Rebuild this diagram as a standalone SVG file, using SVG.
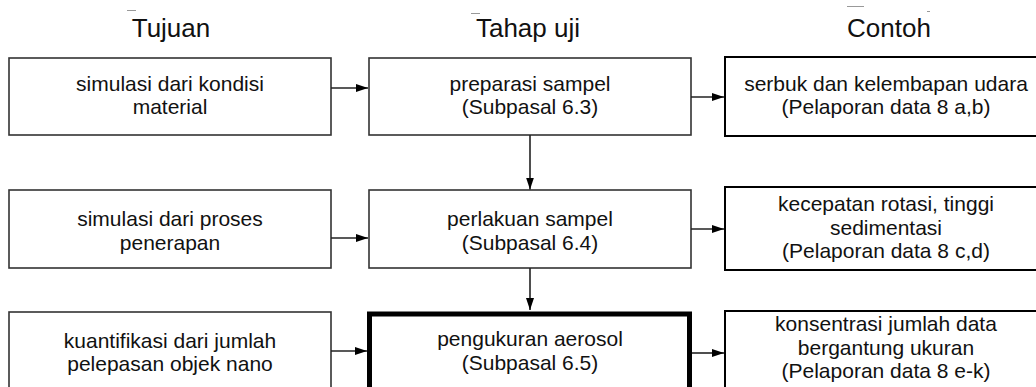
<svg xmlns="http://www.w3.org/2000/svg" width="1036" height="387" viewBox="0 0 1036 387">
<defs>
<marker id="ah" markerUnits="userSpaceOnUse" markerWidth="12" markerHeight="8" refX="12" refY="4" orient="auto">
<path d="M0,0 L12,4 L0,8 Z" fill="#000"/>
</marker>
<style>
.box{fill:#fff;stroke:#333;stroke-width:1.6}
.boxr{fill:#fff;stroke:#000;stroke-width:2}
.bold{fill:#fff;stroke:#000;stroke-width:5}
.t{font-family:"Liberation Sans",Arial,sans-serif;font-size:21px;fill:#111;text-anchor:middle}
.h{font-family:"Liberation Sans",Arial,sans-serif;font-size:26px;fill:#111;text-anchor:middle}
.c{stroke:#222;stroke-width:1.6;fill:none;marker-end:url(#ah)}
.m{stroke:#999;stroke-width:1}
</style>
</defs>
<rect width="1036" height="387" fill="#fff"/>
<g id="marks">
<line class="m" x1="127" y1="10.5" x2="136" y2="10.5"/>
<line class="m" x1="471" y1="13.5" x2="480" y2="13.5"/>
<line class="m" x1="847" y1="6.5" x2="864" y2="6.5" stroke="#ccc"/>
<line class="m" x1="927" y1="11.5" x2="930" y2="11.5"/>
</g>
<g id="headers">
<text class="h" x="171" y="37">Tujuan</text>
<text class="h" x="528" y="37">Tahap uji</text>
<text class="h" x="889" y="37">Contoh</text>
</g>
<g id="n1">
<rect class="box" x="9" y="58" width="322" height="77"/>
<text class="t" x="170" y="91">simulasi dari kondisi</text>
<text class="t" x="170" y="114">material</text>
</g>
<g id="n2">
<rect class="box" x="369" y="58" width="322" height="77"/>
<text class="t" x="530" y="91">preparasi sampel</text>
<text class="t" x="530" y="114">(Subpasal 6.3)</text>
</g>
<g id="n3">
<rect class="boxr" x="725" y="57" width="330" height="79"/>
<text class="t" x="886" y="91">serbuk dan kelembapan udara</text>
<text class="t" x="886" y="114">(Pelaporan data 8 a,b)</text>
</g>
<g id="n4">
<rect class="box" x="9" y="190" width="322" height="78"/>
<text class="t" x="170" y="226">simulasi dari proses</text>
<text class="t" x="170" y="250">penerapan</text>
</g>
<g id="n5">
<rect class="box" x="369" y="190" width="322" height="78"/>
<text class="t" x="530" y="226">perlakuan sampel</text>
<text class="t" x="530" y="250">(Subpasal 6.4)</text>
</g>
<g id="n6">
<rect class="boxr" x="725" y="187" width="330" height="83"/>
<text class="t" x="886" y="211">kecepatan rotasi, tinggi</text>
<text class="t" x="886" y="234.5">sedimentasi</text>
<text class="t" x="886" y="258">(Pelaporan data 8 c,d)</text>
</g>
<g id="n7">
<rect class="box" x="9" y="312" width="322" height="90"/>
<text class="t" x="170" y="348">kuantifikasi dari jumlah</text>
<text class="t" x="170" y="371">pelepasan objek nano</text>
</g>
<g id="n8">
<rect class="bold" x="369.5" y="314" width="320" height="90"/>
<text class="t" x="530" y="346">pengukuran aerosol</text>
<text class="t" x="530" y="370">(Subpasal 6.5)</text>
</g>
<g id="n9">
<rect class="boxr" x="725" y="311" width="330" height="90"/>
<text class="t" x="886" y="331">konsentrasi jumlah data</text>
<text class="t" x="886" y="355">bergantung ukuran</text>
<text class="t" x="886" y="378">(Pelaporan data 8 e-k)</text>
</g>
<g id="connectors">
<line class="c" x1="331" y1="88" x2="368" y2="88"/>
<line class="c" x1="691" y1="97" x2="724" y2="97"/>
<line class="c" x1="530" y1="135" x2="530" y2="189.5"/>
<line class="c" x1="331" y1="238" x2="368" y2="238"/>
<line class="c" x1="691" y1="229" x2="724" y2="229"/>
<line class="c" x1="530" y1="268" x2="530" y2="310"/>
<line class="c" x1="331" y1="351" x2="367" y2="351"/>
<line class="c" x1="692" y1="353" x2="724" y2="353"/>
</g>
</svg>
